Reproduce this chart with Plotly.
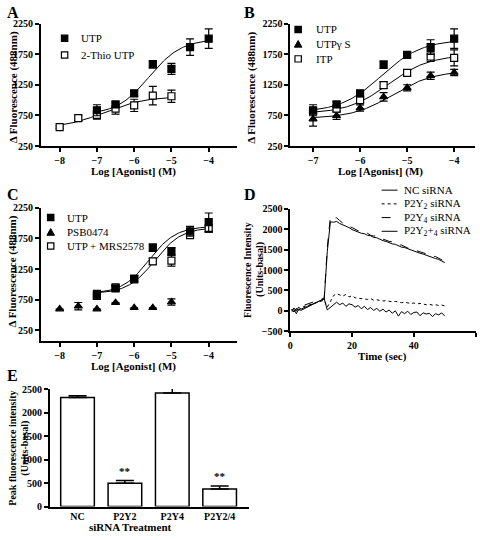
import numpy as np
import plotly.graph_objects as go

W, H = 480, 540
SERIF = "Liberation Serif"

# ---------------- data ----------------
# Panel A
a_uip_x = [-7, -6.5, -6, -5.5, -5, -4.5, -4]
a_uip_y = [835, 930, 1112, 1585, 1510, 1867, 2005]
a_uip_e = [90, 45, 45, 60, 90, 135, 160]
a_thio_x = [-8, -7.5, -7, -6.5, -6, -5.5, -5]
a_thio_y = [558, 707, 760, 861, 915, 1074, 1064]
a_thio_e = [20, 40, 70, 90, 100, 150, 100]
a_uip_fit = [760, 2000, -5.6, 1.0]     # bottom, top, logEC50, hill
a_thio_fit = [540, 1060, -6.8, 0.8]

# Panel B
b_x = [-7, -6.5, -6, -5.5, -5, -4.5, -4]
b_uip_y = [835, 930, 1112, 1580, 1740, 1867, 2005]
b_uip_e = [90, 45, 45, 60, 50, 120, 160]
b_gs_y = [691, 745, 872, 1053, 1202, 1399, 1452]
b_gs_e = [115, 60, 50, 70, 50, 60, 50]
b_itp_y = [819, 861, 1000, 1245, 1447, 1713, 1691]
b_itp_e = [50, 40, 40, 55, 40, 80, 130]
b_uip_fit = [800, 1990, -5.55, 1.0]
b_gs_fit = [700, 1480, -5.3, 1.0]
b_itp_fit = [780, 1740, -5.4, 1.0]

# Panel C
c_x = [-7, -6.5, -6, -5.5, -5, -4.5, -4]
c_uip_y = [833, 935, 1095, 1600, 1540, 1867, 2015]
c_uip_e = [70, 40, 50, 60, 60, 80, 150]
c_mrs_y = [813, 951, 1084, 1377, 1390, 1803, 1909]
c_mrs_e = [50, 35, 35, 50, 90, 40, 60]
c_psb_x = [-8, -7.5, -7, -6.5, -6, -5.5, -5]
c_psb_y = [599, 646, 599, 703, 620, 620, 714]
c_psb_e = [0, 60, 0, 0, 0, 0, 50]
c_uip_fit = [850, 1950, -5.6, 1.2]
c_mrs_fit = [850, 1930, -5.45, 1.2]

# Panel D
d_time = [0.5, 1.2, 2.0, 2.7, 3.5, 11, 12, 13, 14, 15, 16, 17, 18, 19, 20,
          21, 22, 23, 24, 25, 26, 27, 28, 29, 30, 31, 32, 33, 34, 35, 36, 37,
          38, 39, 40, 41, 42, 43, 44, 45, 46, 47, 48, 49, 50]
d_nc = [0, 70, -10, 90, 40, 290, 1450, 2180, 2170, 2190, 2140, 2110, 2060, 2040,
        1990, 1960, 1940, 1900, 1890, 1850, 1840, 1800, 1790, 1750, 1720, 1700,
        1670, 1640, 1630, 1590, 1560, 1550, 1520, 1490, 1460, 1440, 1410, 1390,
        1360, 1330, 1310, 1280, 1260, 1220, 1180]
d_p2y4 = [30, -30, 50, 20, 110, 310, 1550, 2300, 2260, 2280, 2210, 2150, 2120,
          2060, 2040, 2000, 1960, 1950, 1900, 1900, 1850, 1830, 1840, 1780, 1760,
          1730, 1700, 1690, 1650, 1620, 1610, 1570, 1540, 1520, 1490, 1470, 1440,
          1420, 1400, 1370, 1340, 1330, 1290, 1250, 1210]
d_p2y2 = [40, -40, 60, 0, 80, 260, 90, 230, 370, 420, 380, 360, 400, 340, 370,
          320, 310, 300, 290, 280, 300, 260, 270, 250, 240, 250, 230, 220, 230,
          210, 200, 210, 190, 180, 190, 170, 180, 160, 150, 160, 140, 150, 130,
          140, 120]
d_p2y24 = [-20, 30, -70, 40, 10, 300, 20, 90, 160, 210, 150, 190, 110, 170, 150,
           90, 130, 50, 110, 30, 80, 10, 60, -10, 40, -30, 20, -60, 0, -130, -20,
           -70, -10, -90, -40, -30, -120, -50, -80, -60, -140, -70, -100, -50, -130]

# Panel E
e_cats = ["NC", "P2Y2", "P2Y4", "P2Y2/4"]
e_vals = [2320, 494, 2417, 375]
e_errs = [35, 60, 110, 60]
e_sig = ["", "**", "", "**"]

# ---------------- helpers ----------------
def px(x):
    return x / W

def py(y):
    return 1 - y / H

def logistic(params, x0, x1):
    b, t, ec, h = params
    xs = np.linspace(x0, x1, 120)
    return xs, b + (t - b) / (1 + 10 ** ((ec - xs) * h))

tickfont = dict(family=SERIF, size=10, color="black", weight="bold")

def ax(domain, rng, tickvals, anchor):
    return dict(domain=domain, range=rng, tickvals=tickvals, anchor=anchor,
                showline=True, linecolor="black", linewidth=1.5,
                ticks="outside", ticklen=4, tickwidth=1.5, tickcolor="black",
                showgrid=False, zeroline=False, tickfont=tickfont)

fig = go.Figure()

def pts(x, y, e, xa, ya, symbol, filled=True):
    fig.add_trace(go.Scatter(
        x=x, y=y, xaxis=xa, yaxis=ya, mode="markers", showlegend=False,
        marker=dict(symbol=symbol, size=7,
                    color="black" if filled else "white",
                    line=dict(color="black", width=1.2)),
        error_y=dict(type="data", array=e, visible=True, color="black",
                     thickness=1.2, width=4)))

def curve(params, x0, x1, xa, ya):
    xs, ys = logistic(params, x0, x1)
    fig.add_trace(go.Scatter(x=xs, y=ys, xaxis=xa, yaxis=ya, mode="lines",
                             showlegend=False,
                             line=dict(color="black", width=1)))

# Panel A
curve(a_uip_fit, -7, -4, "x", "y")
curve(a_thio_fit, -8, -5, "x", "y")
pts(a_thio_x, a_thio_y, a_thio_e, "x", "y", "square", False)
pts(a_uip_x, a_uip_y, a_uip_e, "x", "y", "square", True)

# Panel B
curve(b_uip_fit, -7, -4, "x2", "y2")
curve(b_gs_fit, -7, -4, "x2", "y2")
curve(b_itp_fit, -7, -4, "x2", "y2")
pts(b_x, b_gs_y, b_gs_e, "x2", "y2", "triangle-up", True)
pts(b_x, b_itp_y, b_itp_e, "x2", "y2", "square", False)
pts(b_x, b_uip_y, b_uip_e, "x2", "y2", "square", True)

# Panel C
curve(c_uip_fit, -7, -4, "x3", "y3")
curve(c_mrs_fit, -7, -4, "x3", "y3")
pts(c_psb_x, c_psb_y, c_psb_e, "x3", "y3", "triangle-up", True)
pts(c_x, c_mrs_y, c_mrs_e, "x3", "y3", "square", False)
pts(c_x, c_uip_y, c_uip_e, "x3", "y3", "square", True)

# Panel D
for ys, dash in [(d_nc, "solid"), (d_p2y2, "dot"), (d_p2y4, "dash"), (d_p2y24, "solid")]:
    fig.add_trace(go.Scatter(x=d_time, y=ys, xaxis="x4", yaxis="y4", mode="lines",
                             showlegend=False,
                             line=dict(color="black", width=1, dash=dash)))

# Panel E
fig.add_trace(go.Bar(x=list(range(len(e_cats))), y=e_vals, xaxis="x5", yaxis="y5",
                     width=0.71, showlegend=False,
                     marker=dict(color="white", line=dict(color="black", width=1.5)),
                     error_y=dict(type="data", array=e_errs,
                                  arrayminus=[0] * len(e_errs), symmetric=False,
                                  visible=True, color="black", thickness=1.5, width=9)))

layout = dict(
    width=W, height=H, margin=dict(l=0, r=0, t=0, b=0),
    paper_bgcolor="white", plot_bgcolor="white", showlegend=False,
    xaxis=ax([px(38), px(235)], [-8.507, -3.253], [-8, -7, -6, -5, -4], "y"),
    yaxis=ax([py(144), py(19)], [250, 2250.5], [250, 750, 1250, 1750, 2250], "x"),
    xaxis2=ax([px(289), px(475)], [-7.486, -3.556], [-7, -6, -5, -4], "y2"),
    yaxis2=ax([py(144), py(19)], [250, 2250.5], [250, 750, 1250, 1750, 2250], "x2"),
    xaxis3=ax([px(38), px(235)], [-8.507, -3.253], [-8, -7, -6, -5, -4], "y3"),
    yaxis3=ax([py(343), py(207)], [78, 2250.5], [250, 750, 1250, 1750, 2250], "x3"),
    xaxis4=ax([px(289), px(476)], [0, 60.1], [0, 20, 40, 60], "y4"),
    yaxis4=ax([py(333), py(208)], [-500, 2500.5], [-500, 0, 500, 1000, 1500, 2000, 2500], "x4"),
    xaxis5=dict(ax([px(47), px(248)], [-0.587, 3.629], list(range(len(e_cats))), "y5"),
                ticktext=e_cats, ticks=""),
    yaxis5=ax([py(512), py(392)], [0, 2500.5], [0, 500, 1000, 1500, 2000, 2500], "x5"),
)
fig.update_layout(**layout)

ann = []
def text(x, y, s, size=11, bold=True, angle=0, xanchor="center", yanchor="middle"):
    ann.append(dict(x=px(x), y=py(y), xref="paper", yref="paper", text=s,
                    showarrow=False, textangle=angle, xanchor=xanchor, yanchor=yanchor,
                    font=dict(family=SERIF, size=size, color="black",
                              weight="bold" if bold else "normal")))

# panel letters
for lx, ly, L in [(2, 8, "A"), (240, 8, "B"), (2, 193, "C"), (240, 193, "D"), (2, 378, "E")]:
    text(lx, ly, L, size=16, xanchor="left")

# axis titles
text(131, 170, "Log [Agonist] (M)")
text(380, 170, "Log [Agonist] (M)")
text(131, 369, "Log [Agonist] (M)")
text(382, 359, "Time (sec)")
text(128, 533, "siRNA Treatment")
text(10, 84, "\u0394 Fluorescence (488nm)", angle=-90)
text(250, 84, "\u0394 Fluorescence (488nm)", angle=-90)
text(10, 272, "\u0394 Fluorescence (488nm)", angle=-90)
text(246, 270, "Fluorescence Intensity", size=10, angle=-90)
text(258, 270, "(Units-basal)", size=10, angle=-90)
text(10, 452, "Peak fluorescence intensity", size=10, angle=-90)
text(22, 452, "(Units-basal)", size=10, angle=-90)

# significance marks
for i, s in enumerate(e_sig):
    if s:
        ann.append(dict(x=i, y=e_vals[i] + e_errs[i], xref="x5", yref="y5", text=s,
                        showarrow=False, yanchor="bottom", yshift=2,
                        font=dict(family=SERIF, size=11, color="black", weight="bold")))

# legends (manual keys)
shapes = []
def sq(cx, cy, filled, s=3.2):
    shapes.append(dict(type="rect", xref="paper", yref="paper",
                       x0=px(cx - s), x1=px(cx + s), y0=py(cy + s), y1=py(cy - s),
                       fillcolor="black" if filled else "white",
                       line=dict(color="black", width=1.2)))

def tri(cx, cy, s=3.8):
    path = f"M {px(cx - s)} {py(cy + s * 0.8)} L {px(cx + s)} {py(cy + s * 0.8)} L {px(cx)} {py(cy - s)} Z"
    shapes.append(dict(type="path", xref="paper", yref="paper", path=path,
                       fillcolor="black", line=dict(color="black", width=1)))

def lkey(x0, x1, cy, dash):
    shapes.append(dict(type="line", xref="paper", yref="paper",
                       x0=px(x0), x1=px(x1), y0=py(cy), y1=py(cy),
                       line=dict(color="black", width=1, dash=dash)))

sq(62, 34, True); text(76, 34, "UTP", bold=False, xanchor="left")
sq(62, 51, False); text(76, 51, "2-Thio UTP", bold=False, xanchor="left")

sq(297, 25, True); text(313, 25, "UTP", bold=False, xanchor="left")
tri(297, 40); text(313, 40, "UTPγ S", bold=False, xanchor="left")
sq(297, 55, False); text(313, 55, "ITP", bold=False, xanchor="left")

sq(48, 217, True); text(62, 217, "UTP", bold=False, xanchor="left")
tri(48, 232); text(62, 232, "PSB0474", bold=False, xanchor="left")
sq(48, 246, False); text(62, 246, "UTP + MRS2578", bold=False, xanchor="left")

for cy, dash, lab in [(189, "solid", "NC siRNA"),
                      (203, "dot", "P2Y<sub>2</sub> siRNA"),
                      (217, "dash", "P2Y<sub>4</sub> siRNA"),
                      (231, "solid", "P2Y<sub>2</sub>+<sub>4</sub> siRNA")]:
    lkey(381, 397, cy, dash)
    text(402, cy, lab, bold=False, xanchor="left")

fig.update_layout(annotations=ann, shapes=shapes)
fig.write_html("out.html", config={"displayModeBar": False},
               post_script="document.body.style.margin='0';document.body.style.overflow='hidden';")
